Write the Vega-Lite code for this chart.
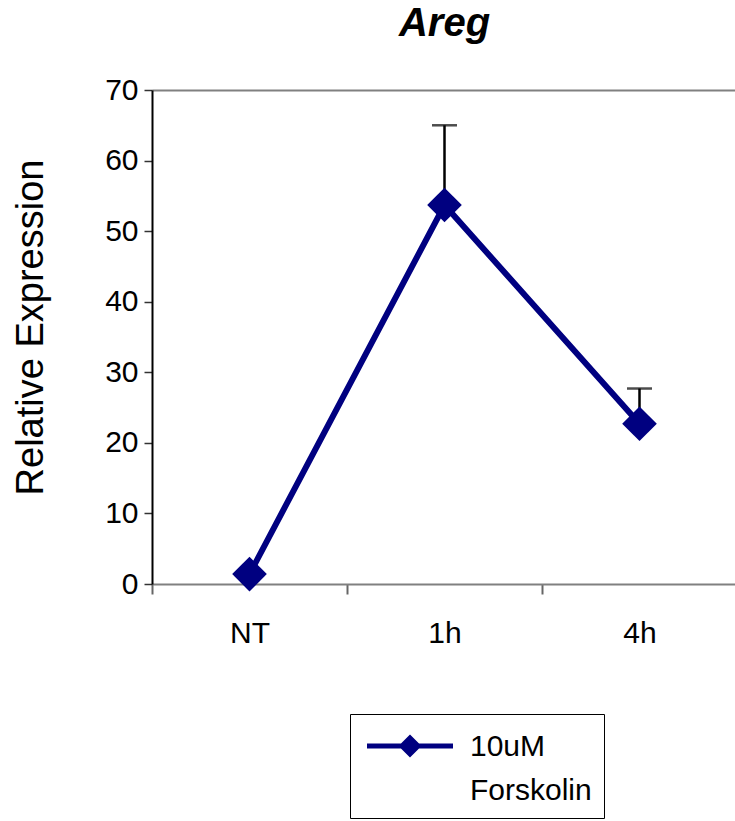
{
  "$schema": "https://vega.github.io/schema/vega-lite/v6.json",
  "width": 585,
  "height": 494,
  "autosize": {"type": "none"},
  "padding": {"left": 152, "top": 90, "right": 0, "bottom": 237},
  "background": "white",
  "config": {
    "view": {"stroke": null},
    "font": "Liberation Sans",
    "axis": {"grid": false, "labelFont": "Liberation Sans", "titleFont": "Liberation Sans", "labelColor": "black", "titleColor": "black", "titleFontWeight": "normal"}
  },
  "title": {
    "text": "Areg",
    "font": "Liberation Sans",
    "fontSize": 40,
    "fontWeight": "bold",
    "fontStyle": "italic",
    "color": "black",
    "anchor": "middle",
    "frame": "group",
    "baseline": "bottom",
    "offset": -9
  },
  "data": {
    "values": [
      {"time": "NT", "value": 1.4, "upper": null, "series": "10uM Forskolin"},
      {"time": "1h", "value": 53.7, "upper": 65.0, "series": "10uM Forskolin"},
      {"time": "4h", "value": 22.7, "upper": 27.7, "series": "10uM Forskolin"}
    ]
  },
  "resolve": {"axis": {"x": "independent"}},
  "layer": [
    {
      "transform": [{"filter": "datum.upper != null"}],
      "mark": {"type": "rule", "color": "black", "strokeWidth": 2.5},
      "encoding": {
        "x": {"field": "time", "type": "nominal", "sort": ["NT", "1h", "4h"],
              "scale": {"type": "band", "paddingInner": 0, "paddingOuter": 0},
              "axis": {"orient": "bottom", "title": null, "labelAngle": 0, "labelFontSize": 30, "labelPadding": 24,
                       "tickBand": "extent", "tickSize": 10, "tickColor": "#666666", "tickWidth": 2,
                       "domainColor": "#808080", "domainWidth": 2, "labelBaseline": "top"}},
        "y": {"field": "value", "type": "quantitative",
              "scale": {"domain": [0, 70], "nice": false},
              "axis": {"title": "Relative Expression", "titleFontSize": 38, "titlePadding": 54, "titleY": 237,
                       "values": [0, 10, 20, 30, 40, 50, 60, 70], "labelFontSize": 30, "labelPadding": 6,
                       "tickSize": 8, "tickColor": "#333333", "tickWidth": 1.5, "domainColor": "black", "domainWidth": 2}},
        "y2": {"field": "upper"}
      }
    },
    {
      "transform": [{"filter": "datum.upper != null"}],
      "mark": {"type": "tick", "color": "black", "orient": "horizontal", "size": 25, "thickness": 2.5},
      "encoding": {
        "x": {"field": "time", "type": "nominal", "sort": ["NT", "1h", "4h"],
              "axis": {"orient": "top", "title": null, "labels": false, "ticks": false, "domainColor": "#808080", "domainWidth": 2}},
        "y": {"field": "upper", "type": "quantitative"}
      }
    },
    {
      "mark": {"type": "line", "strokeWidth": 6},
      "encoding": {
        "x": {"field": "time", "type": "nominal", "sort": ["NT", "1h", "4h"], "axis": null},
        "y": {"field": "value", "type": "quantitative"},
        "color": {"field": "series", "type": "nominal",
                  "scale": {"range": ["#000080"]},
                  "legend": {
                    "title": null, "orient": "none", "legendX": 198, "legendY": 624,
                    "strokeColor": "black", "padding": 12, "fillColor": "white",
                    "symbolType": "M-1,0.5H7.6M2.5,0.5L3.3,-0.3L4.1,0.5L3.3,1.3Z",
                    "symbolSize": 400, "symbolStrokeWidth": 5, "symbolFillColor": "#000080", "symbolStrokeColor": "#000080",
                    "labelExpr": "['10uM', 'Forskolin']",
                    "labelFontSize": 30, "labelFont": "Liberation Sans", "labelColor": "black",
                    "labelOffset": 78, "labelLimit": 300,
                    "labelBaseline": "top",
                    "encode": {"labels": {"update": {"lineHeight": {"value": 44}, "dy": {"value": -9}}}}
                  }}
      }
    },
    {
      "mark": {"type": "point", "shape": "diamond", "filled": true, "size": 1200, "opacity": 1, "color": "#000080"},
      "encoding": {
        "x": {"field": "time", "type": "nominal", "sort": ["NT", "1h", "4h"], "axis": null},
        "y": {"field": "value", "type": "quantitative"}
      }
    }
  ]
}
